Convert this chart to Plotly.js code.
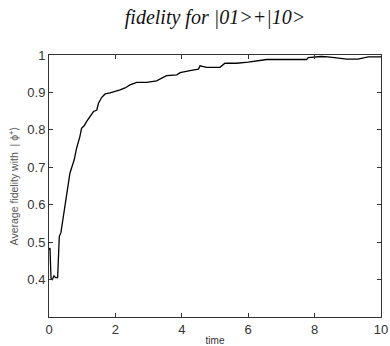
<!DOCTYPE html>
<html><head><meta charset="utf-8">
<script src="https://cdn.plot.ly/plotly-3.0.1.min.js"></script>
<style>html,body{margin:0;padding:0;background:#fff}</style>
</head><body>
<div id="chart" style="width:390px;height:346px"></div>
<script>
const time = [0.0, 0.03, 0.06, 0.10, 0.15, 0.20, 0.26, 0.28, 0.31, 0.36, 0.43, 0.48, 0.53, 0.58, 0.63, 0.68, 0.76, 0.83, 0.88, 0.93, 0.98, 1.06, 1.13, 1.23, 1.34, 1.44, 1.49, 1.59, 1.69, 1.84, 1.99, 2.14, 2.29, 2.44, 2.64, 2.94, 3.24, 3.54, 3.85, 3.95, 4.25, 4.50, 4.55, 4.75, 5.15, 5.30, 5.65, 6.00, 6.56, 7.20, 7.76, 7.81, 8.20, 8.40, 8.97, 9.30, 9.62, 9.92, 10.0];
const fidelity = [0.48, 0.484, 0.404, 0.40, 0.41, 0.405, 0.405, 0.467, 0.515, 0.526, 0.569, 0.604, 0.631, 0.662, 0.684, 0.698, 0.72, 0.751, 0.764, 0.782, 0.804, 0.811, 0.822, 0.836, 0.849, 0.853, 0.871, 0.887, 0.896, 0.899, 0.902, 0.907, 0.912, 0.92, 0.927, 0.927, 0.931, 0.945, 0.947, 0.953, 0.958, 0.962, 0.971, 0.967, 0.967, 0.978, 0.978, 0.981, 0.988, 0.988, 0.988, 0.993, 0.996, 0.995, 0.989, 0.989, 0.995, 0.995, 0.995];
const xTicks = [0, 2, 4, 6, 8, 10];
const yTicks = [0.4, 0.5, 0.6, 0.7, 0.8, 0.9, 1];
const yTickText = ["0.4", "0.5", "0.6", "0.7", "0.8", "0.9", "1"];

const trace = {
  x: time, y: fidelity, type: 'scatter', mode: 'lines',
  line: {color: '#000', width: 1.3, shape: 'linear'},
  hoverinfo: 'skip'
};
const axisCommon = {
  showgrid: false, zeroline: false, showline: true, mirror: 'ticks',
  linecolor: '#333', linewidth: 1, ticks: 'inside', ticklen: 4, tickcolor: '#333',
  tickfont: {family: 'Liberation Sans, Arial, sans-serif', size: 13, color: '#333'}
};
const layout = {
  width: 390, height: 346,
  margin: {l: 49, r: 9, t: 55, b: 29},
  paper_bgcolor: '#fff', plot_bgcolor: '#fff',
  showlegend: false,
  title: {
    text: 'fidelity for |01>+|10>',
    font: {family: 'Liberation Serif, Times New Roman, serif', size: 20, color: '#111', style: 'italic'},
    x: 0.5, xref: 'paper', xanchor: 'center', y: 0.95, yref: 'container', yanchor: 'middle'
  },
  xaxis: Object.assign({}, axisCommon, {
    range: [0, 10], tickvals: xTicks, ticktext: xTicks.map(String),
    title: {text: 'time', font: {family: 'Liberation Sans, Arial, sans-serif', size: 10, color: '#333'}, standoff: 2}
  }),
  yaxis: Object.assign({}, axisCommon, {
    range: [0.3, 1], tickvals: yTicks, ticktext: yTickText,
    title: {text: 'Average fidelity with  | \u03D5<sup>+</sup>\u27E9', font: {family: 'Liberation Sans, Arial, sans-serif', size: 10.5, color: '#555'}, standoff: 6}
  })
};
Plotly.newPlot('chart', [trace], layout, {displayModeBar: false, staticPlot: true});
</script>
</body></html>
